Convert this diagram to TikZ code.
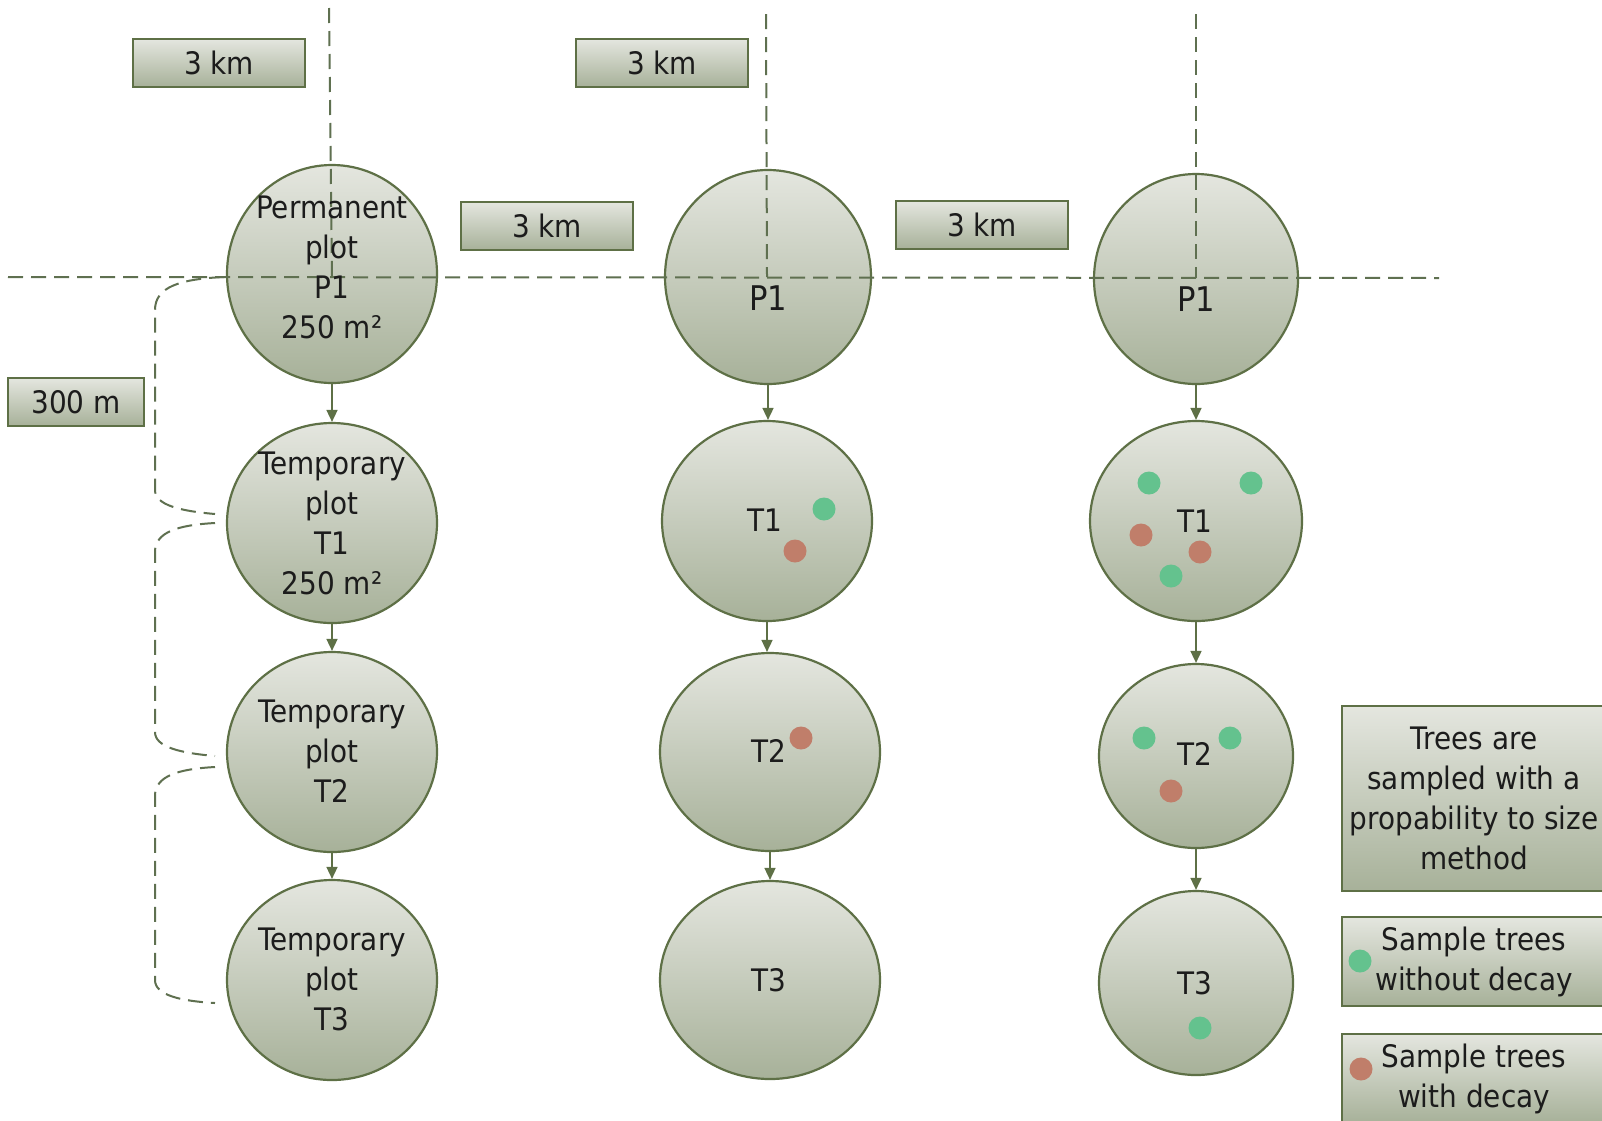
\documentclass[tikz,border=0pt]{standalone}
\usepackage{fontspec}
\setmainfont{DejaVu Sans}[FakeStretch=0.9]
\usetikzlibrary{arrows.meta,shapes.geometric}
\definecolor{edgec}{HTML}{5E7046}
\definecolor{topc}{HTML}{E4E6DF}
\definecolor{botc}{HTML}{A7B199}
\definecolor{dashc}{HTML}{5F7050}
\definecolor{txtc}{HTML}{1C1C1C}
\definecolor{gdotc}{HTML}{64C28E}
\definecolor{rdotc}{HTML}{C07E6A}
\tikzset{
  plotshape/.style={ellipse, draw=edgec, line width=2.2pt, top color=topc, bottom color=botc, inner sep=0pt},
  lbl/.style={font=\fontsize{31}{40}\selectfont, text=txtc, align=center, inner sep=0pt},
  kmbox/.style={rectangle, draw=edgec, line width=2.2pt, top color=topc, bottom color=botc, inner sep=0pt, font=\fontsize{31}{40}\selectfont, text=txtc, align=center},
  arr/.style={draw=edgec, line width=1.6pt, -{Triangle[length=12pt,width=11pt]}},
  dline/.style={draw=dashc, line width=2pt, dash pattern=on 15pt off 8pt},
  gdot/.style={circle, fill=gdotc, minimum size=23pt, inner sep=0pt},
  rdot/.style={circle, fill=rdotc, minimum size=23pt, inner sep=0pt}
}
\begin{document}
\begin{tikzpicture}[x=1pt,y=-1pt]
\useasboundingbox (0,0) rectangle (1602,1120);
\fill[white] (0,0) rectangle (1602,1120);

% column 1
\node[plotshape, minimum width=210pt, minimum height=218pt] (p1a) at (332,274) {};
\node[plotshape, minimum width=210pt, minimum height=200pt] (t1a) at (332,523) {};
\node[plotshape, minimum width=210pt, minimum height=200pt] (t2a) at (332,752) {};
\node[plotshape, minimum width=210pt, minimum height=200pt] (t3a) at (332,980) {};
% column 2
\node[plotshape, minimum width=206pt, minimum height=214pt] (p1b) at (768,277) {};
\node[plotshape, minimum width=210pt, minimum height=200pt] (t1b) at (767,521) {};
\node[plotshape, minimum width=220pt, minimum height=198pt] (t2b) at (770,752) {};
\node[plotshape, minimum width=220pt, minimum height=198pt] (t3b) at (770,980) {};
% column 3
\node[plotshape, minimum width=204pt, minimum height=210pt] (p1c) at (1196,279) {};
\node[plotshape, minimum width=212pt, minimum height=200pt] (t1c) at (1196,521) {};
\node[plotshape, minimum width=194pt, minimum height=184pt] (t2c) at (1196,756) {};
\node[plotshape, minimum width=194pt, minimum height=184pt] (t3c) at (1196,983) {};

% arrows
\draw[arr] (p1a) -- (t1a);
\draw[arr] (t1a) -- (t2a);
\draw[arr] (t2a) -- (t3a);
\draw[arr] (p1b.south) -- (p1b.south |- t1b.north);
\draw[arr] (t1b.south) -- (t1b.south |- t2b.north);
\draw[arr] (t2b) -- (t3b);
\draw[arr] (p1c) -- (t1c);
\draw[arr] (t1c) -- (t2c);
\draw[arr] (t2c) -- (t3c);

% dashed grid lines
\coordinate (hl) at (8,277);
\coordinate (hr) at (1439,278);
\coordinate (v1t) at (329,8);
\coordinate (v1b) at (332,276);
\coordinate (v2t) at (766,14);
\coordinate (v2b) at (767,277);
\coordinate (v3t) at (1196,14);
\coordinate (v3b) at (1196,278);
\draw[dline] (hl) -- (hr);
\draw[dline] (v1t) -- (v1b);
\draw[dline] (v2t) -- (v2b);
\draw[dline] (v3t) -- (v3b);

% left brackets
\coordinate (b1s) at (224,277);
\coordinate (b1e) at (215,514);
\coordinate (b2s) at (215,523);
\coordinate (b2e) at (215,756);
\coordinate (b3s) at (215,767);
\coordinate (b3e) at (215,1003);
\draw[dline] (b1s) .. controls (180,279) and (155,287) .. (155,310) -- (155,490) .. controls (155,505) and (180,511) .. (b1e);
\draw[dline] (b2s) .. controls (178,525) and (155,532) .. (155,552) -- (155,732) .. controls (155,747) and (180,753) .. (b2e);
\draw[dline] (b3s) .. controls (178,769) and (155,776) .. (155,796) -- (155,980) .. controls (155,995) and (180,1001) .. (b3e);

% dots
\node[gdot] (g1) at (824,509) {};
\node[rdot] (r1) at (795,551) {};
\node[rdot] (r2) at (801,738) {};
\node[gdot] (g2) at (1149,483) {};
\node[gdot] (g3) at (1251,483) {};
\node[rdot] (r3) at (1141,535) {};
\node[rdot] (r4) at (1200,552) {};
\node[gdot] (g4) at (1171,576) {};
\node[gdot] (g5) at (1144,738) {};
\node[gdot] (g6) at (1230,738) {};
\node[rdot] (r5) at (1171,791) {};
\node[gdot] (g7) at (1200,1028) {};

% texts in circles
\node[lbl] (p1at) at (332,267) {Permanent\\plot\\P1\\250 m²};
\node[lbl] (t1at) at (332,523) {Temporary\\plot\\T1\\250 m²};
\node[lbl] (t2at) at (332,751) {Temporary\\plot\\T2};
\node[lbl] (t3at) at (332,979) {Temporary\\plot\\T3};
\node[lbl, font=\fontsize{34}{40}\selectfont] (p1bt) at (768,298) {P1};
\node[lbl] (t1bt) at (765,520) {T1};
\node[lbl] (t2bt) at (769,751) {T2};
\node[lbl] (t3bt) at (769,980) {T3};
\node[lbl, font=\fontsize{34}{40}\selectfont] (p1ct) at (1196,299) {P1};
\node[lbl] (t1ct) at (1195,521) {T1};
\node[lbl] (t2ct) at (1195,754) {T2};
\node[lbl] (t3ct) at (1195,983) {T3};

% distance boxes
\node[kmbox, minimum width=172pt, minimum height=48pt] (kmA) at (219,63) {3 km};
\node[kmbox, minimum width=172pt, minimum height=48pt] (kmB) at (662,63) {3 km};
\node[kmbox, minimum width=172pt, minimum height=48pt] (kmC) at (547,226) {3 km};
\node[kmbox, minimum width=172pt, minimum height=48pt] (kmD) at (982,225) {3 km};
\node[kmbox, minimum width=136pt, minimum height=48pt] (m300) at (76,402) {300 m};

% legend
\node[kmbox, minimum width=264pt, minimum height=185pt] (leg1) at (1474,798.5) {Trees are\\sampled with a\\propability to size\\method};
\node[kmbox, minimum width=264pt, minimum height=89pt] (leg2) at (1474,961.5) {Sample trees\\without decay};
\node[kmbox, minimum width=264pt, minimum height=89pt] (leg3) at (1474,1078.5) {Sample trees\\with decay};
\node[gdot] (lg) at (1360,961) {};
\node[rdot] (lr) at (1361,1069) {};
\end{tikzpicture}
\end{document}
